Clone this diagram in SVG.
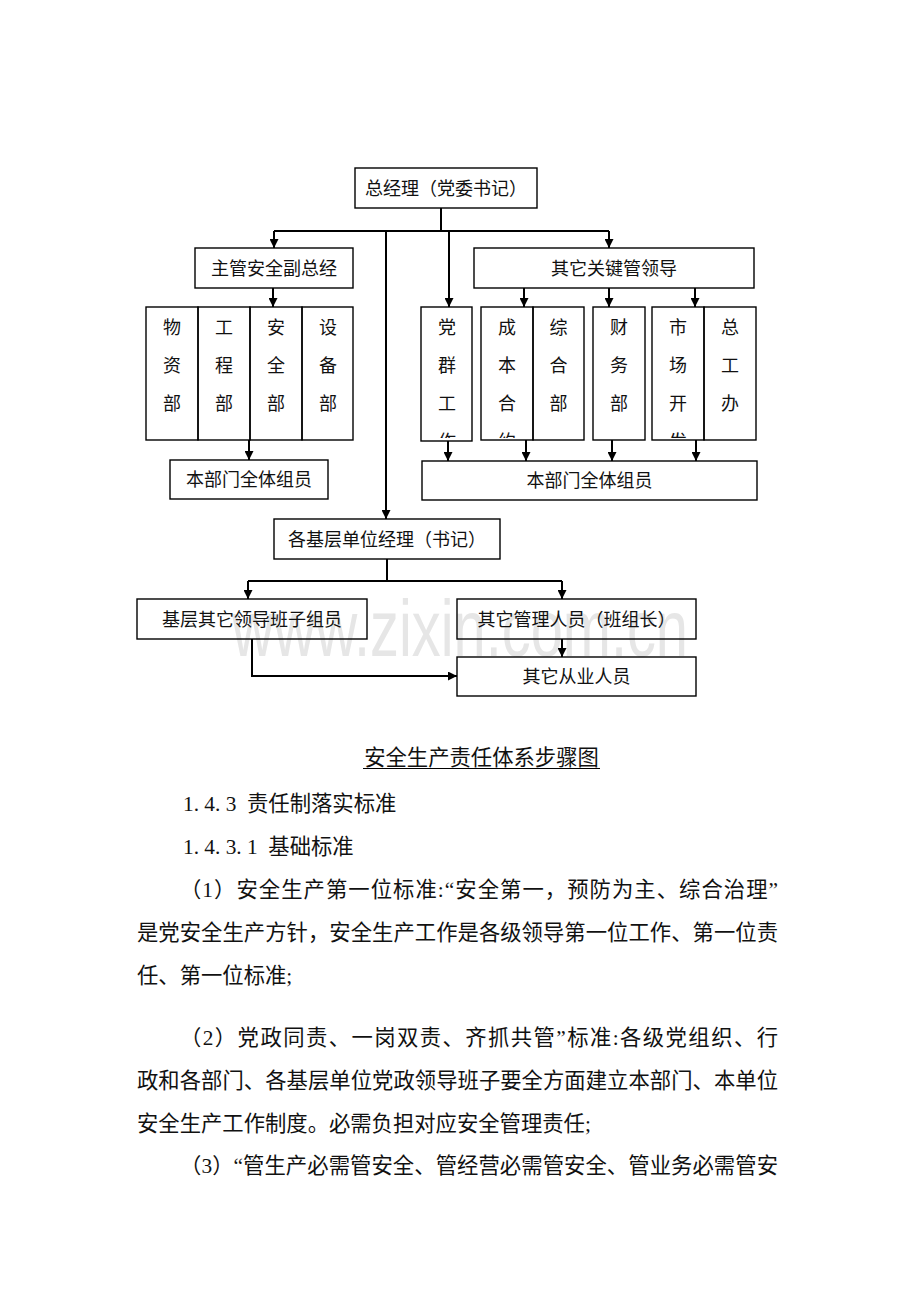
<svg xmlns="http://www.w3.org/2000/svg" width="920" height="1302" viewBox="0 0 920 1302">
<style>
.box{fill:none;stroke:#000;stroke-width:1.4}
.t{font-family:"Noto Sans CJK SC",sans-serif;font-size:18px;fill:#111;text-anchor:middle}
.v{font-family:"Noto Sans CJK SC",sans-serif;font-size:18px;fill:#111;text-anchor:middle}
.c{fill:none;stroke:#000;stroke-width:2}
.a{fill:none;stroke:#000;stroke-width:2;marker-end:url(#arr)}
.b{font-family:"Liberation Serif","Noto Sans CJK SC",serif;font-size:21.33px;fill:#111}
.wm{font-family:"Liberation Sans",sans-serif;font-size:80px;fill:#e6e6e6}
</style>
<defs>
<marker id="arr" viewBox="0 0 10 10" refX="10" refY="5" markerWidth="10" markerHeight="9" markerUnits="userSpaceOnUse" orient="auto">
<path d="M0,0 L10,5 L0,10 z" fill="#000"/>
</marker>
<clipPath id="cp1"><rect x="421" y="307" width="51" height="131"/></clipPath>
<clipPath id="cp2"><rect x="481" y="307" width="52" height="131"/></clipPath>
<clipPath id="cp3"><rect x="652" y="307" width="52" height="131"/></clipPath>
</defs>
<rect width="920" height="1302" fill="#fff"/>
<text class="wm" x="232" y="656" textLength="456" lengthAdjust="spacingAndGlyphs">www.zixin.com.cn</text>

<g id="connectors">
<path class="c" d="M441,208 V231 M274,231 H609"/>
<path class="a" d="M274,231 V248"/>
<path class="a" d="M609,231 V248"/>
<path class="a" d="M386,231 V519"/>
<path class="a" d="M449,231 V307"/>
<path class="a" d="M273,288 V307"/>
<path class="a" d="M524,288 V307"/>
<path class="a" d="M609,288 V307"/>
<path class="a" d="M695,288 V307"/>
<path class="a" d="M249,440 V460"/>
<path class="a" d="M448,441 V461"/>
<path class="a" d="M526,440 V461"/>
<path class="a" d="M612,440 V461"/>
<path class="a" d="M696,440 V461"/>
<path class="c" d="M387,559 V581 M248,581 H562"/>
<path class="a" d="M248,581 V599"/>
<path class="a" d="M562,581 V599"/>
<path class="a" d="M562,639 V657"/>
<path class="a" d="M252,639 V676 H457"/>
</g>

<g id="n_gm"><rect class="box" x="355" y="168" width="182" height="40"/><text class="t" x="446" y="194.8">总经理（党委书记）</text></g>
<g id="n_safety_vp"><rect class="box" x="195" y="248" width="158" height="40"/><text class="t" x="274" y="274.8">主管安全副总经</text></g>
<g id="n_other_leaders"><rect class="box" x="474" y="248" width="280" height="40"/><text class="t" x="614" y="274.8">其它关键管领导</text></g>

<g id="n_wuzi"><rect class="box" x="146" y="307" width="52" height="133"/><text class="v"><tspan x="172" y="333.8">物</tspan><tspan x="172" y="371.8">资</tspan><tspan x="172" y="409.8">部</tspan></text></g>
<g id="n_gongcheng"><rect class="box" x="198" y="307" width="52" height="133"/><text class="v"><tspan x="224" y="333.8">工</tspan><tspan x="224" y="371.8">程</tspan><tspan x="224" y="409.8">部</tspan></text></g>
<g id="n_anquan"><rect class="box" x="250" y="307" width="52" height="133"/><text class="v"><tspan x="276" y="333.8">安</tspan><tspan x="276" y="371.8">全</tspan><tspan x="276" y="409.8">部</tspan></text></g>
<g id="n_shebei"><rect class="box" x="302" y="307" width="51" height="133"/><text class="v"><tspan x="328" y="333.8">设</tspan><tspan x="328" y="371.8">备</tspan><tspan x="328" y="409.8">部</tspan></text></g>

<g id="n_dangqun"><rect class="box" x="421" y="307" width="51" height="134"/><text class="v" clip-path="url(#cp1)"><tspan x="447" y="333.8">党</tspan><tspan x="447" y="371.8">群</tspan><tspan x="447" y="409.8">工</tspan><tspan x="447" y="447.8">作</tspan></text></g>
<g id="n_chengben"><rect class="box" x="481" y="307" width="52" height="133"/><text class="v" clip-path="url(#cp2)"><tspan x="507" y="333.8">成</tspan><tspan x="507" y="371.8">本</tspan><tspan x="507" y="409.8">合</tspan><tspan x="507" y="447.8">约</tspan></text></g>
<g id="n_zonghe"><rect class="box" x="533" y="307" width="51" height="133"/><text class="v"><tspan x="558.5" y="333.8">综</tspan><tspan x="558.5" y="371.8">合</tspan><tspan x="558.5" y="409.8">部</tspan></text></g>
<g id="n_caiwu"><rect class="box" x="593" y="307" width="52" height="133"/><text class="v"><tspan x="619" y="333.8">财</tspan><tspan x="619" y="371.8">务</tspan><tspan x="619" y="409.8">部</tspan></text></g>
<g id="n_shichang"><rect class="box" x="652" y="307" width="52" height="133"/><text class="v" clip-path="url(#cp3)"><tspan x="678" y="333.8">市</tspan><tspan x="678" y="371.8">场</tspan><tspan x="678" y="409.8">开</tspan><tspan x="678" y="447.8">发</tspan></text></g>
<g id="n_zonggong"><rect class="box" x="704" y="307" width="52" height="133"/><text class="v"><tspan x="730" y="333.8">总</tspan><tspan x="730" y="371.8">工</tspan><tspan x="730" y="409.8">办</tspan></text></g>

<g id="n_staff_left"><rect class="box" x="170" y="460" width="158" height="39"/><text class="t" x="249" y="486.3">本部门全体组员</text></g>
<g id="n_staff_right"><rect class="box" x="422" y="461" width="335" height="39"/><text class="t" x="589.5" y="487.3">本部门全体组员</text></g>
<g id="n_unit_mgr"><rect class="box" x="274" y="519" width="226" height="40"/><text class="t" x="387" y="545.8">各基层单位经理（书记）</text></g>
<g id="n_unit_leaders"><rect class="box" x="137" y="599" width="230" height="40"/><text class="t" x="252" y="625.8">基层其它领导班子组员</text></g>
<g id="n_other_mgmt"><rect class="box" x="457" y="599" width="239" height="40"/><text class="t" x="576.5" y="625.8">其它管理人员（班组长）</text></g>
<g id="n_workers"><rect class="box" x="457" y="657" width="239" height="39"/><text class="t" x="576.5" y="683.3">其它从业人员</text></g>

<g id="body">
<text class="b" x="481.5" y="765" text-anchor="middle">安全生产责任体系步骤图</text>
<line x1="363" y1="768.5" x2="600" y2="768.5" stroke="#000" stroke-width="1"/>
<text class="b" x="183 193.67 204.33 215 225.67 247" y="811">1.4.3责任制落实标准</text>
<text class="b" x="183 193.67 204.33 215 225.67 236.33 247 268.3" y="854">1.4.3.1基础标准</text>
<text class="b" x="180" y="897" textLength="598" lengthAdjust="spacing">（1）安全生产第一位标准:“安全第一，预防为主、综合治理”</text>
<text class="b" x="137" y="940" textLength="641" lengthAdjust="spacing">是党安全生产方针，安全生产工作是各级领导第一位工作、第一位责</text>
<text class="b" x="137" y="983">任、第一位标准;</text>
<text class="b" x="180" y="1045" textLength="598" lengthAdjust="spacing">（2）党政同责、一岗双责、齐抓共管”标准:各级党组织、行</text>
<text class="b" x="137" y="1088" textLength="641" lengthAdjust="spacing">政和各部门、各基层单位党政领导班子要全方面建立本部门、本单位</text>
<text class="b" x="137" y="1131">安全生产工作制度。必需负担对应安全管理责任;</text>
<text class="b" x="180" y="1173" textLength="598" lengthAdjust="spacing">（3）“管生产必需管安全、管经营必需管安全、管业务必需管安</text>
</g>
</svg>
